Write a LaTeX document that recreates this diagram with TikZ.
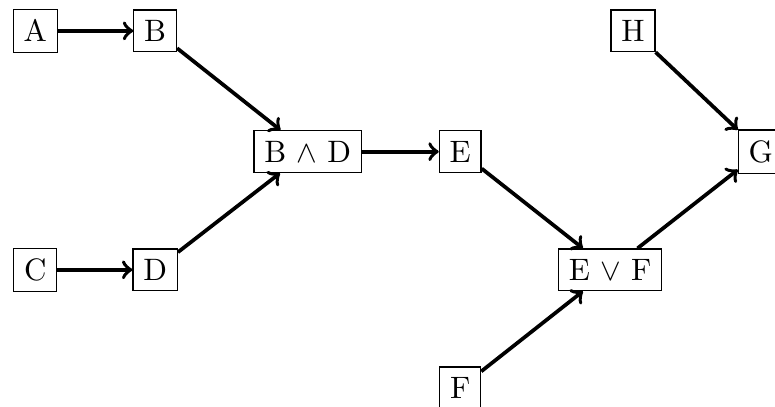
\documentclass[tikz,border=0pt]{standalone}
\usepackage{tikz}

\begin{document}
\begin{tikzpicture}[every node/.style={draw, fill=white}]
   \useasboundingbox (0,0) rectangle (8.79,-4.61);
   \node (a) at (0.40,-0.35) {A};
   \node (b) at (1.76,-0.35) {B};
   \node (c) at (0.40,-3.06) {C};
   \node (d) at (1.76,-3.06) {D};
   \node (bd) at (3.49,-1.72) {B $\wedge$ D};
   \node (e) at (5.22,-1.72) {E};
   \node (f) at (5.22,-4.40) {F};
   \node (ef) at (6.92,-3.06) {E $\vee$ F};
   \node (h) at (7.18,-0.35) {H};
   \node (g) at (8.63,-1.72) {G};
   \path[->, very thick] (a) edge (b);
   \path[->, very thick] (c) edge (d);
   \path[->, very thick] (b) edge (bd);
   \path[->, very thick] (d) edge (bd);
   \path[->, very thick] (bd) edge (e);
   \path[->, very thick] (e) edge (ef);
   \path[->, very thick] (f) edge (ef);
   \path[->, very thick] (ef) edge (g);
   \path[->, very thick] (h) edge (g);
  \end{tikzpicture}
\end{document}
